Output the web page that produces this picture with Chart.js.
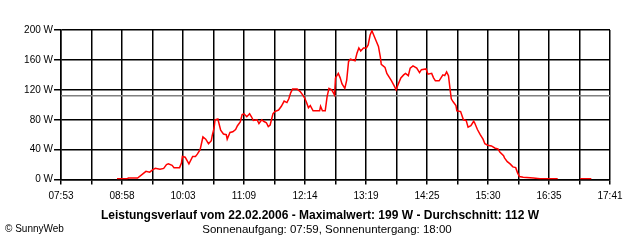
<!DOCTYPE html>
<html>
<head>
<meta charset="utf-8">
<script src="https://cdn.jsdelivr.net/npm/chart.js@4/dist/chart.umd.min.js"></script>
<style>
  html, body { margin: 0; padding: 0; background: #fff; }
</style>
</head>
<body>
<canvas id="powerChart" width="640" height="240"></canvas>
<script>
// Leistungsverlauf 22.02.2006
const times = [
  "08:53","09:04","09:05","09:15","09:21","09:24","09:28","09:31","09:34","09:39",
  "09:43","09:46","09:48","09:52","09:54","10:00","10:02","10:03","10:06","10:10",
  "10:14","10:17","10:19","10:22","10:25","10:28","10:31","10:34","10:35","10:37",
  "10:38","10:41","10:44","10:47","10:50","10:51","10:54","10:57","11:00","11:02",
  "11:05","11:07","11:09","11:12","11:15","11:17","11:19","11:23","11:25","11:28",
  "11:30","11:33","11:35","11:37","11:40","11:42","11:46","11:49","11:52","11:55",
  "11:57","11:59","12:01","12:03","12:06","12:09","12:12","12:14","12:16","12:18",
  "12:20","12:23","12:30","12:31","12:33","12:36","12:38","12:40","12:43","12:46",
  "12:47","12:50","12:52","12:54","12:57","12:59","13:01","13:03","13:08","13:10",
  "13:12","13:14","13:17","13:20","13:22","13:24","13:26","13:27","13:30","13:33",
  "13:35","13:36","13:40","13:42","13:45","13:47","13:50","13:52","13:54","13:57",
  "14:00","14:02","14:05","14:07","14:10","14:14","14:17","14:19","14:24","14:26",
  "14:30","14:32","14:34","14:38","14:42","14:44","14:46","14:48","14:50","14:51",
  "14:53","14:56","14:57","15:01","15:04","15:07","15:09","15:12","15:15","15:16",
  "15:19","15:22","15:25","15:27","15:30","15:34","15:38","15:41","15:43","15:47",
  "15:48","15:51","15:54","15:57","16:00","16:02","16:04","16:08","16:19","16:26",
  "16:45","16:46","17:09","17:21"
];
const watts = [
  1,1,2,2,8,11,10,13,15,14,
  15,20,21,19,16,16,22,31,30,21,
  31,31,34,40,57,54,48,52,59,69,
  80,81,66,61,60,54,63,64,67,72,
  77,87,88,84,88,84,79,80,75,80,
  78,76,71,73,88,91,93,98,105,103,
  108,116,121,121,121,118,113,109,103,96,
  99,92,92,98,92,92,111,122,120,113,
  136,142,136,128,122,133,158,161,159,169,
  176,172,176,176,180,193,199,196,187,178,
  164,154,150,142,136,132,125,120,127,136,
  140,142,139,149,152,149,143,147,148,141,
  142,136,132,132,140,139,144,139,118,108,
  104,99,92,91,80,79,70,72,78,76,
  67,60,54,48,46,45,42,41,37,32,
  29,24,21,17,16,9,4,3,2,1,
  1,null,1,1
];
const averageWatt = 112;
const xLabels = ["07:53","08:58","10:03","11:09","12:14","13:19","14:25","15:30","16:35","17:41"];
const yTicks = [0, 40, 80, 120, 160, 200];

function toMin(t) {
  let p = t.split(":");
  return parseInt(p[0]) * 60 + parseInt(p[1]);
}

const xMin = toMin(xLabels[0]);
const xMax = toMin(xLabels[xLabels.length - 1]);
const gridSteps = (xLabels.length - 1) * 2;
const fontFamily = "'Liberation Sans', Arial, sans-serif";

let points = times.map(function(t, i) {
  return { x: toMin(t), y: watts[i] };
});

// copyright + sunrise line under the title
const footerText = {
  id: "footerText",
  afterDraw(chart) {
    const ctx = chart.ctx;
    ctx.save();
    ctx.fillStyle = "#000";
    ctx.textBaseline = "middle";
    ctx.font = "10px " + fontFamily;
    ctx.textAlign = "left";
    ctx.fillText("\u00A9 SunnyWeb", 5, 229);
    ctx.font = "11.5px " + fontFamily;
    ctx.textAlign = "center";
    ctx.fillText("Sonnenaufgang: 07:59, Sonnenuntergang: 18:00", 327, 230);
    ctx.restore();
  }
};

new Chart(document.getElementById("powerChart"), {
  type: "line",
  data: {
    datasets: [{
      data: points,
      borderColor: "#ff0000",
      borderWidth: 1.5,
      pointRadius: 0,
      tension: 0,
      spanGaps: false
    }, {
      data: [{ x: xMin, y: averageWatt }, { x: xMax, y: averageWatt }],
      borderColor: "#808080",
      borderWidth: 1.5,
      pointRadius: 0
    }]
  },
  options: {
    responsive: false,
    animation: false,
    layout: { padding: { top: 30, right: 0, left: 0, bottom: 17 } },
    scales: {
      x: {
        type: "linear",
        min: xMin,
        max: xMax,
        afterBuildTicks: function(scale) {
          let ticks = [];
          for (let i = 0; i <= gridSteps; i++) {
            ticks.push({ value: xMin + i * (xMax - xMin) / gridSteps });
          }
          scale.ticks = ticks;
        },
        grid: { color: "#000", lineWidth: 1.5, tickLength: 5 },
        border: { color: "#000", width: 1.5 },
        ticks: {
          autoSkip: false,
          maxRotation: 0,
          padding: 5.5,
          color: "#000",
          font: { family: fontFamily, size: 10 },
          callback: function(v, i) {
            return i % 2 === 0 ? xLabels[i / 2] : "";
          }
        }
      },
      y: {
        min: yTicks[0],
        max: yTicks[yTicks.length - 1],
        afterBuildTicks: function(scale) {
          scale.ticks = yTicks.map(function(v) { return { value: v }; });
        },
        afterFit: function(scale) { scale.width = 61; },
        grid: { color: "#000", lineWidth: 1.5, tickLength: 7 },
        border: { color: "#000", width: 1.5 },
        ticks: {
          padding: 1,
          color: "#000",
          font: { family: fontFamily, size: 10 },
          callback: function(v) { return v + " W"; }
        }
      },
      // empty right-hand strip so the title stays centred on the canvas
      yRight: {
        position: "right",
        min: 0,
        max: 200,
        afterFit: function(scale) { scale.width = 30; },
        grid: { display: false },
        border: { display: false },
        ticks: { display: false }
      }
    },
    plugins: {
      legend: { display: false },
      tooltip: { enabled: false },
      title: {
        display: true,
        position: "bottom",
        text: "Leistungsverlauf vom 22.02.2006 - Maximalwert: 199 W - Durchschnitt: 112 W",
        color: "#000",
        font: { family: fontFamily, size: 12, weight: "bold" },
        padding: { top: 1, bottom: 0 }
      }
    }
  },
  plugins: [footerText]
});
</script>
</body>
</html>
